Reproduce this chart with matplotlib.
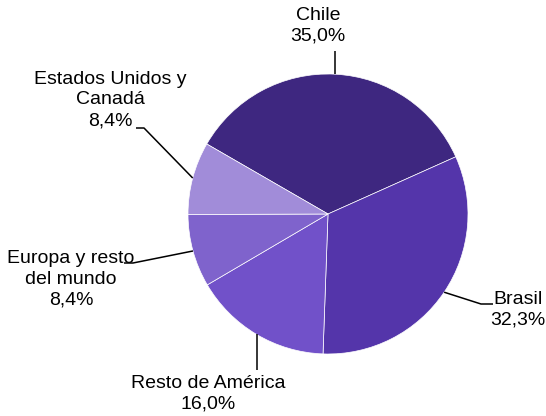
import matplotlib.pyplot as plt
import numpy as np

regiones = ['Chile', 'Brasil', 'Resto de América', 'Europa y resto\ndel mundo', 'Estados Unidos y\nCanadá']
porcentajes = [35.0, 32.3, 16.0, 8.4, 8.4]
etiquetas_pct = ['35,0%', '32,3%', '16,0%', '8,4%', '8,4%']
colores = ['#3e2780', '#5435aa', '#7151c9', '#7f63cc', '#a18cd9']

W, H = 546, 416
plt.rcParams['font.family'] = ['Liberation Sans', 'DejaVu Sans']

fig = plt.figure(figsize=(W / 100, H / 100), dpi=100)
ax = fig.add_axes([0, 0, 1, 1])

cx, cy, r = 328, H - 214, 140
wedges, _ = ax.pie(porcentajes, colors=colores, startangle=150, counterclock=False,
                   center=(cx, cy), radius=r,
                   wedgeprops=dict(edgecolor='white', linewidth=0.5))

# posicion del texto (px, y hacia abajo) y codo de la linea guia
pos_texto = [(318, 26), (518, 310), (208, 394), (71, 279), (110, 100)]
codos = [None, (481, 304), None, (133, 263), (144, 128)]
fines = [(335, 51), (493, 304), (257, 370), (124, 263), (136, 128)]

for w, nombre, pct, (tx, ty), codo, fin in zip(wedges, regiones, etiquetas_pct, pos_texto, codos, fines):
    ang = np.deg2rad((w.theta1 + w.theta2) / 2)
    ax_ = cx + r * np.cos(ang)
    ay_ = cy + r * np.sin(ang)
    xs = [ax_]
    ys = [ay_]
    if codo is not None:
        xs.append(codo[0])
        ys.append(H - codo[1])
    xs.append(fin[0])
    ys.append(H - fin[1])
    if nombre == 'Chile':
        xs = [fin[0], fin[0]]
        ys = [ay_, H - fin[1]]
    if nombre == 'Resto de América':
        xs = [fin[0], fin[0]]
    ax.plot(xs, ys, color='black', linewidth=1.1, solid_capstyle='butt')
    ax.text(tx, H - ty, nombre + '\n' + pct, ha='center', va='center',
            fontsize=14, linespacing=1.27, color='black')

ax.set_xlim(0, W)
ax.set_ylim(0, H)
ax.set_aspect('auto')
ax.axis('off')

fig.savefig('out.png', dpi=100)
